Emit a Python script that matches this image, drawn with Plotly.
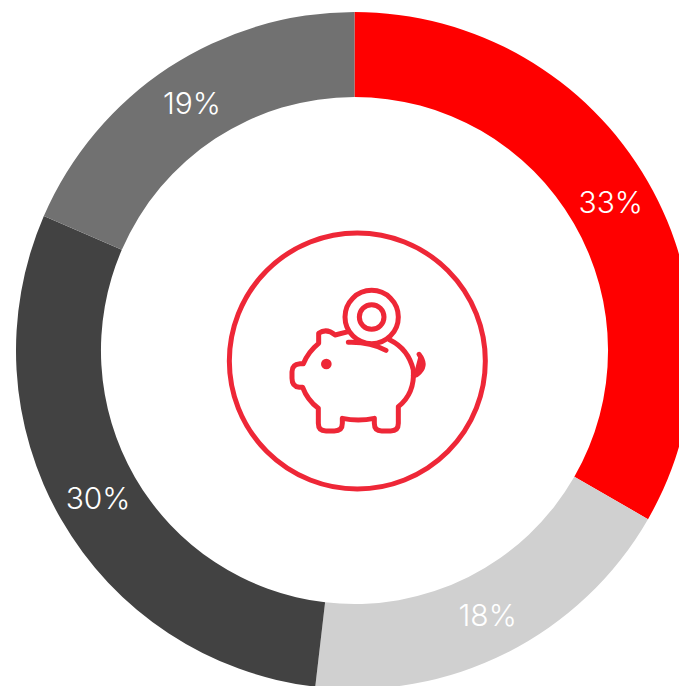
import plotly.graph_objects as go

# ---- data ----
categories = ["Red", "Light grey", "Dark grey", "Mid grey"]
values = [33.3, 18.55, 29.65, 18.5]
labels = ["33%", "18%", "30%", "19%"]
colors = ["#ff0000", "#d0d0d0", "#424242", "#717171"]

W, H = 709, 701
ML, MT = 16, 12
SIDE = 677
ICON = "#ee2737"
STROKE = 5


def px(zx, zy):
    """Icon sketch coordinates to paper coordinates (paper = the plot area)."""
    x = 220 + zx / 3
    y = 225 + zy / 3
    return (x - ML) / SIDE, 1 - (y - MT) / SIDE


def path(cmds):
    out = []
    for c in cmds:
        pts = " ".join("%.5f,%.5f" % px(*p) for p in c[1:])
        out.append(c[0] + pts)
    return " ".join(out)


def circle(cx, cy, r, fill=None, width=STROKE):
    x0, y1 = px(cx - r, cy - r)
    x1, y0 = px(cx + r, cy + r)
    return dict(type="circle", xref="paper", yref="paper", x0=x0, x1=x1, y0=y0, y1=y1,
                fillcolor=fill or "rgba(0,0,0,0)", line=dict(color=ICON, width=width))


body = [
    ("M", (510, 345)),
    ("Q", (565, 372), (580, 435)),
    ("Q", (585, 505), (535, 545)),
    ("L", (535, 595)),
    ("Q", (535, 618), (512, 618)),
    ("L", (485, 618)),
    ("Q", (463, 618), (463, 595)),
    ("L", (463, 580)),
    ("Q", (415, 590), (367, 580)),
    ("L", (367, 595)),
    ("Q", (367, 618), (343, 618)),
    ("L", (318, 618)),
    ("Q", (295, 618), (295, 595)),
    ("L", (295, 550)),
    ("Q", (262, 525), (248, 487)),
    ("L", (238, 487)),
    ("Q", (216, 485), (216, 460)),
    ("L", (216, 440)),
    ("Q", (216, 418), (240, 416)),
    ("L", (250, 416)),
    ("Q", (265, 380), (296, 355)),
    ("L", (296, 325)),
    ("Q", (320, 308), (345, 330)),
    ("L", (385, 320)),
]
slot = [("M", (385, 352)), ("Q", (450, 350), (498, 376))]
tail = [
    ("M", (597, 388)),
    ("Q", (620, 418), (600, 440)),
    ("Q", (590, 452), (580, 452)),
]


def stroke(cmds, fill="rgba(0,0,0,0)"):
    return dict(type="path", xref="paper", yref="paper", path=path(cmds),
                fillcolor=fill, line=dict(color=ICON, width=STROKE))


shapes = [
    circle(412, 408, 384),
    circle(455, 276, 80),
    circle(455, 276, 37),
    circle(319, 417, 16, fill=ICON, width=0),
    stroke(body),
    stroke(slot),
    stroke(tail, fill=ICON),
]

fig = go.Figure(go.Pie(
    labels=categories,
    values=values,
    text=labels,
    textinfo="text",
    textposition="inside",
    insidetextorientation="horizontal",
    insidetextfont=dict(family="Inter, Liberation Sans, sans-serif", size=30, color="#ffffff", weight=300),
    marker=dict(colors=colors, line=dict(width=0)),
    hole=0.749,
    sort=False,
    direction="clockwise",
    rotation=0,
    hoverinfo="skip",
))
fig.update_layout(
    width=W, height=H,
    margin=dict(l=ML, r=W - ML - SIDE, t=MT, b=H - MT - SIDE),
    showlegend=False,
    paper_bgcolor="#ffffff",
    shapes=shapes,
)
post = """
document.documentElement.style.overflow='hidden';
document.body.style.overflow='hidden';
document.body.style.margin='0';
document.querySelectorAll('.shapelayer path').forEach(function(p){
  p.style.strokeLinecap='round'; p.style.strokeLinejoin='round';
});
"""
fig.write_html("out.html", post_script=post, config=dict(displayModeBar=False))
